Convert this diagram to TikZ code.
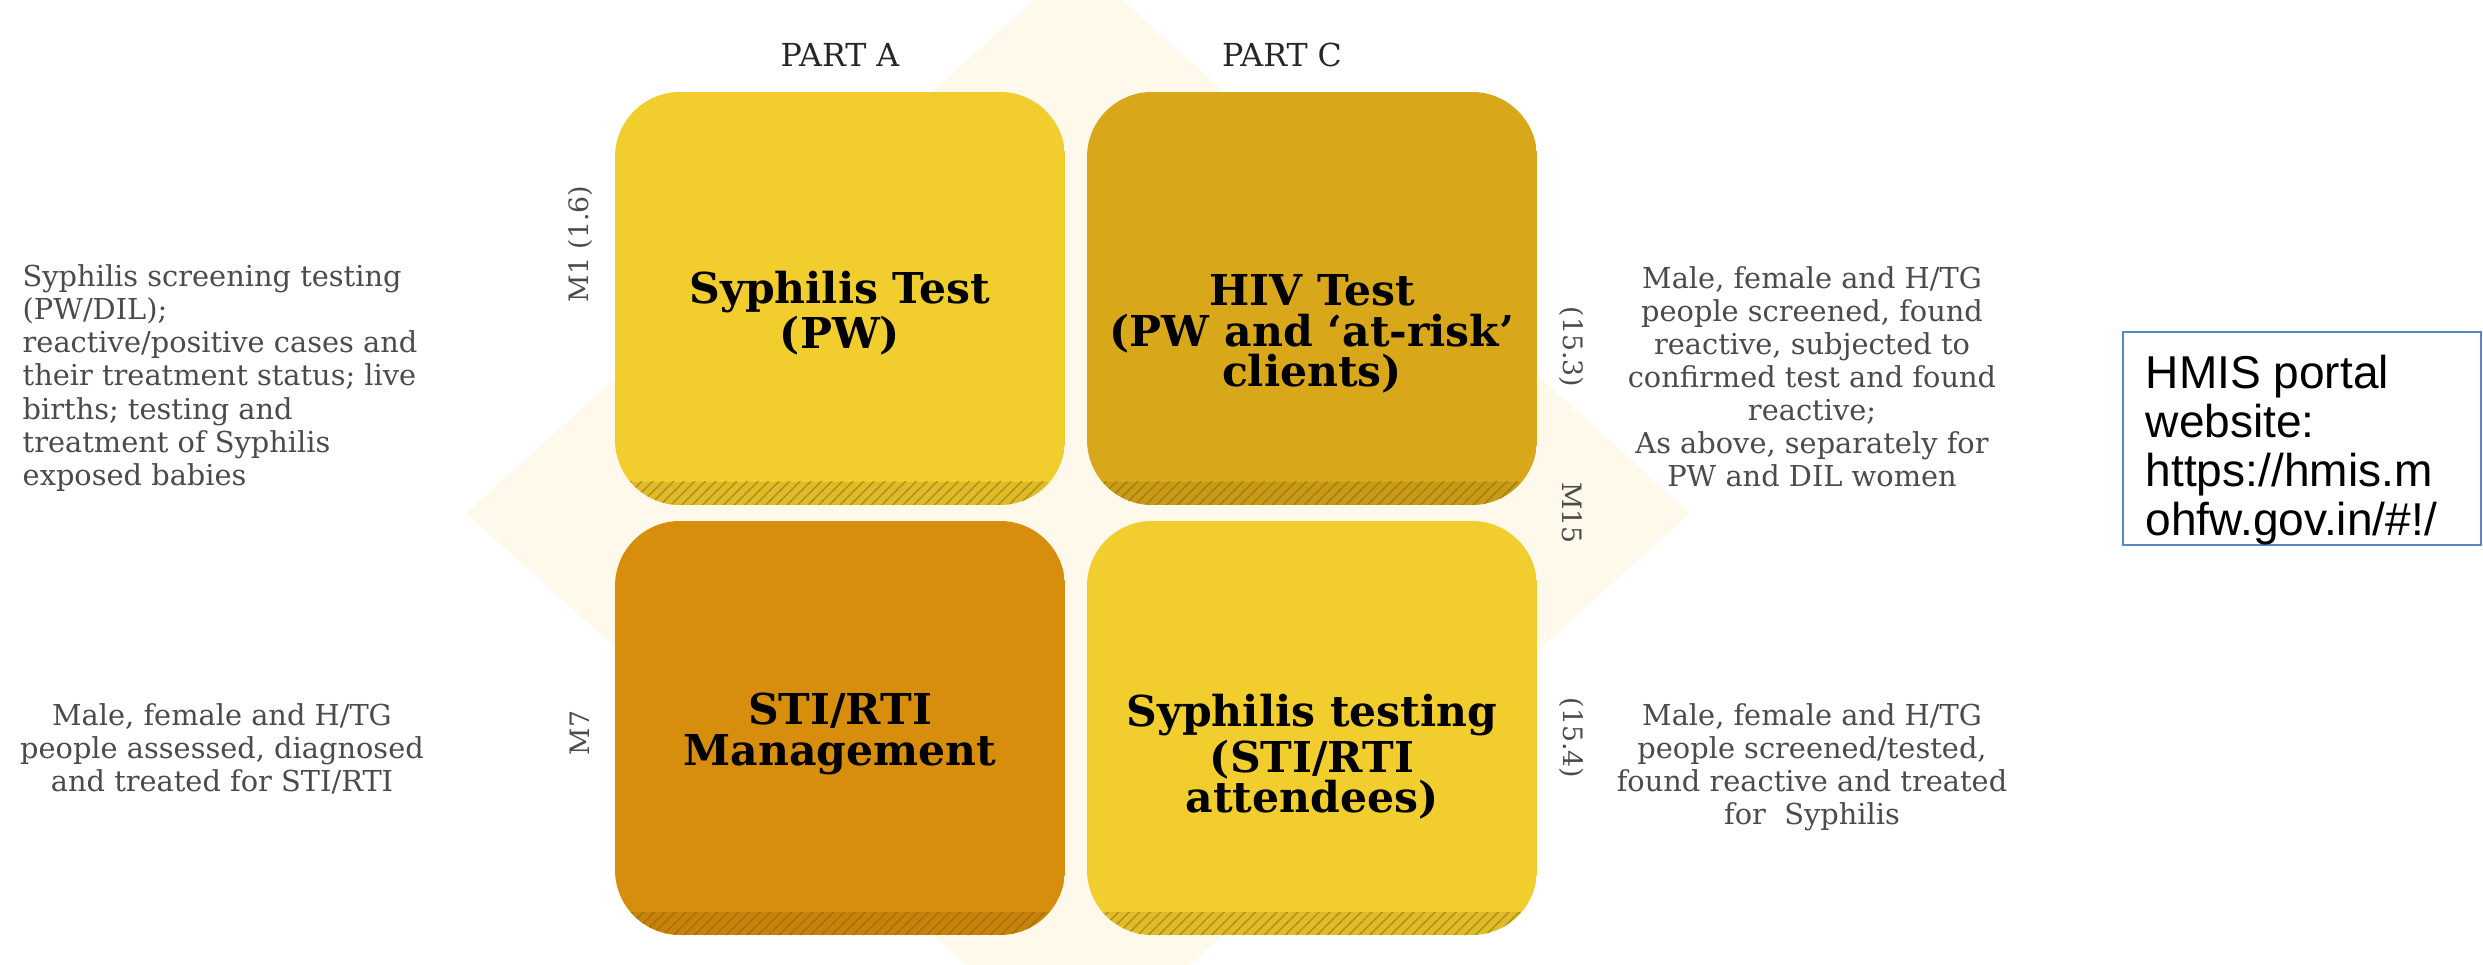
\documentclass[tikz,border=0pt]{standalone}
\usepackage{fontspec}
\setmainfont{DejaVu Serif}
\newfontfamily\portalfont{Liberation Sans}
\usetikzlibrary{patterns}
\definecolor{quadyellow}{RGB}{241,205,45}
\definecolor{quadgold}{RGB}{216,168,26}
\definecolor{quadorange}{RGB}{215,142,12}
\definecolor{bgcream}{RGB}{255,249,236}
\definecolor{descgray}{RGB}{75,75,75}
\definecolor{portalblue}{RGB}{91,134,198}
\definecolor{bandbrown}{RGB}{140,100,0}
\begin{document}
\begin{tikzpicture}[x=0.01cm,y=-0.01cm,
		desc/.style={text=descgray,font=\fontsize{8.2}{9.4}\selectfont,inner sep=0pt},
		quad/.style={font=\fontsize{12.1}{11.6}\selectfont\bfseries,align=center,inner sep=0pt},
		side/.style={text=descgray,font=\fontsize{7.6}{9}\selectfont,inner sep=0pt},
		part/.style={text=black!85,font=\fontsize{9}{10}\selectfont,inner sep=0pt},
		band/.style={pattern=north east lines,pattern color=bandbrown}]
			\useasboundingbox (0,0) rectangle (2483,965);
			% faint diamond behind the grid
			\fill[bgcream] (1078,-40) -- (1690,513) -- (1078,1066) -- (466,513) -- cycle;
			% four quadrants, darker hatched strip at the bottom
			\begin{scope}
				\clip[rounded corners=0.65cm] (615,92) rectangle (1065,505);
				\fill[quadyellow] (615,92) rectangle (1065,505);
				\fill[black,opacity=0.08] (615,482) rectangle (1065,505);
				\fill[band,opacity=0.5] (615,482) rectangle (1065,505);
			\end{scope}
			\begin{scope}
				\clip[rounded corners=0.65cm] (1087,92) rectangle (1537,505);
				\fill[quadgold] (1087,92) rectangle (1537,505);
				\fill[black,opacity=0.08] (1087,482) rectangle (1537,505);
				\fill[band,opacity=0.5] (1087,482) rectangle (1537,505);
			\end{scope}
			\begin{scope}
				\clip[rounded corners=0.65cm] (615,521) rectangle (1065,935);
				\fill[quadorange] (615,521) rectangle (1065,935);
				\fill[black,opacity=0.08] (615,912) rectangle (1065,935);
				\fill[band,opacity=0.5] (615,912) rectangle (1065,935);
			\end{scope}
			\begin{scope}
				\clip[rounded corners=0.65cm] (1087,521) rectangle (1537,935);
				\fill[quadyellow] (1087,521) rectangle (1537,935);
				\fill[black,opacity=0.08] (1087,912) rectangle (1537,935);
				\fill[band,opacity=0.5] (1087,912) rectangle (1537,935);
			\end{scope}
			\node[quad] (syphtest) at (840,313) {Syphilis Test\\(PW)};
			\node[quad] (hivtest) at (1312,334) {HIV Test\\(PW and ‘at-risk’\\clients)};
			\node[quad] (stimgmt) at (840,734) {STI/RTI\\Management};
			\node[quad] (syphsti) at (1312,757) {Syphilis testing\\(STI/RTI\\attendees)};
			% part headings
			\node[part] (parta) at (840,55) {PART A};
			\node[part] (partc) at (1282,55) {PART C};
			% indicator numbers along the sides
			\node[side,rotate=90] (mone) at (580,244) {M1 (1.6)};
			\node[side,rotate=90] (mseven) at (580,733) {M7};
			\node[side,rotate=-90] (fifthree) at (1572,347) {(15.3)};
			\node[side,rotate=-90] (mfifteen) at (1572,513) {M15};
			\node[side,rotate=-90] (fiffour) at (1572,738) {(15.4)};
			% descriptions
			\node[desc,align=left,anchor=west] (descA) at (22,378) {Syphilis screening testing\\(PW/DIL);\\reactive/positive cases and\\their treatment status; live\\births; testing and\\treatment of Syphilis\\exposed babies};
			\node[desc,align=center] (descM7) at (222,749) {Male, female and H/TG\\people assessed, diagnosed\\and treated for STI/RTI};
			\node[desc,align=center] (descC) at (1812,377) {Male, female and H/TG\\people screened, found\\reactive, subjected to\\confirmed test and found\\reactive;\\As above, separately for\\PW and DIL women};
			\node[desc,align=center] (descM15) at (1812,767) {Male, female and H/TG\\people screened/tested,\\found reactive and treated\\for~ Syphilis};
			% portal reference
			\draw[portalblue,line width=0.6pt] (2123,332) rectangle (2481,545);
			\node[anchor=west,align=left,inner sep=0pt,font=\portalfont\fontsize{13.1}{14}\selectfont] (portal) at (2145,450) {HMIS portal\\website:\\https://hmis.m\\ohfw.gov.in/\#!/};
		\end{tikzpicture}
\end{document}
